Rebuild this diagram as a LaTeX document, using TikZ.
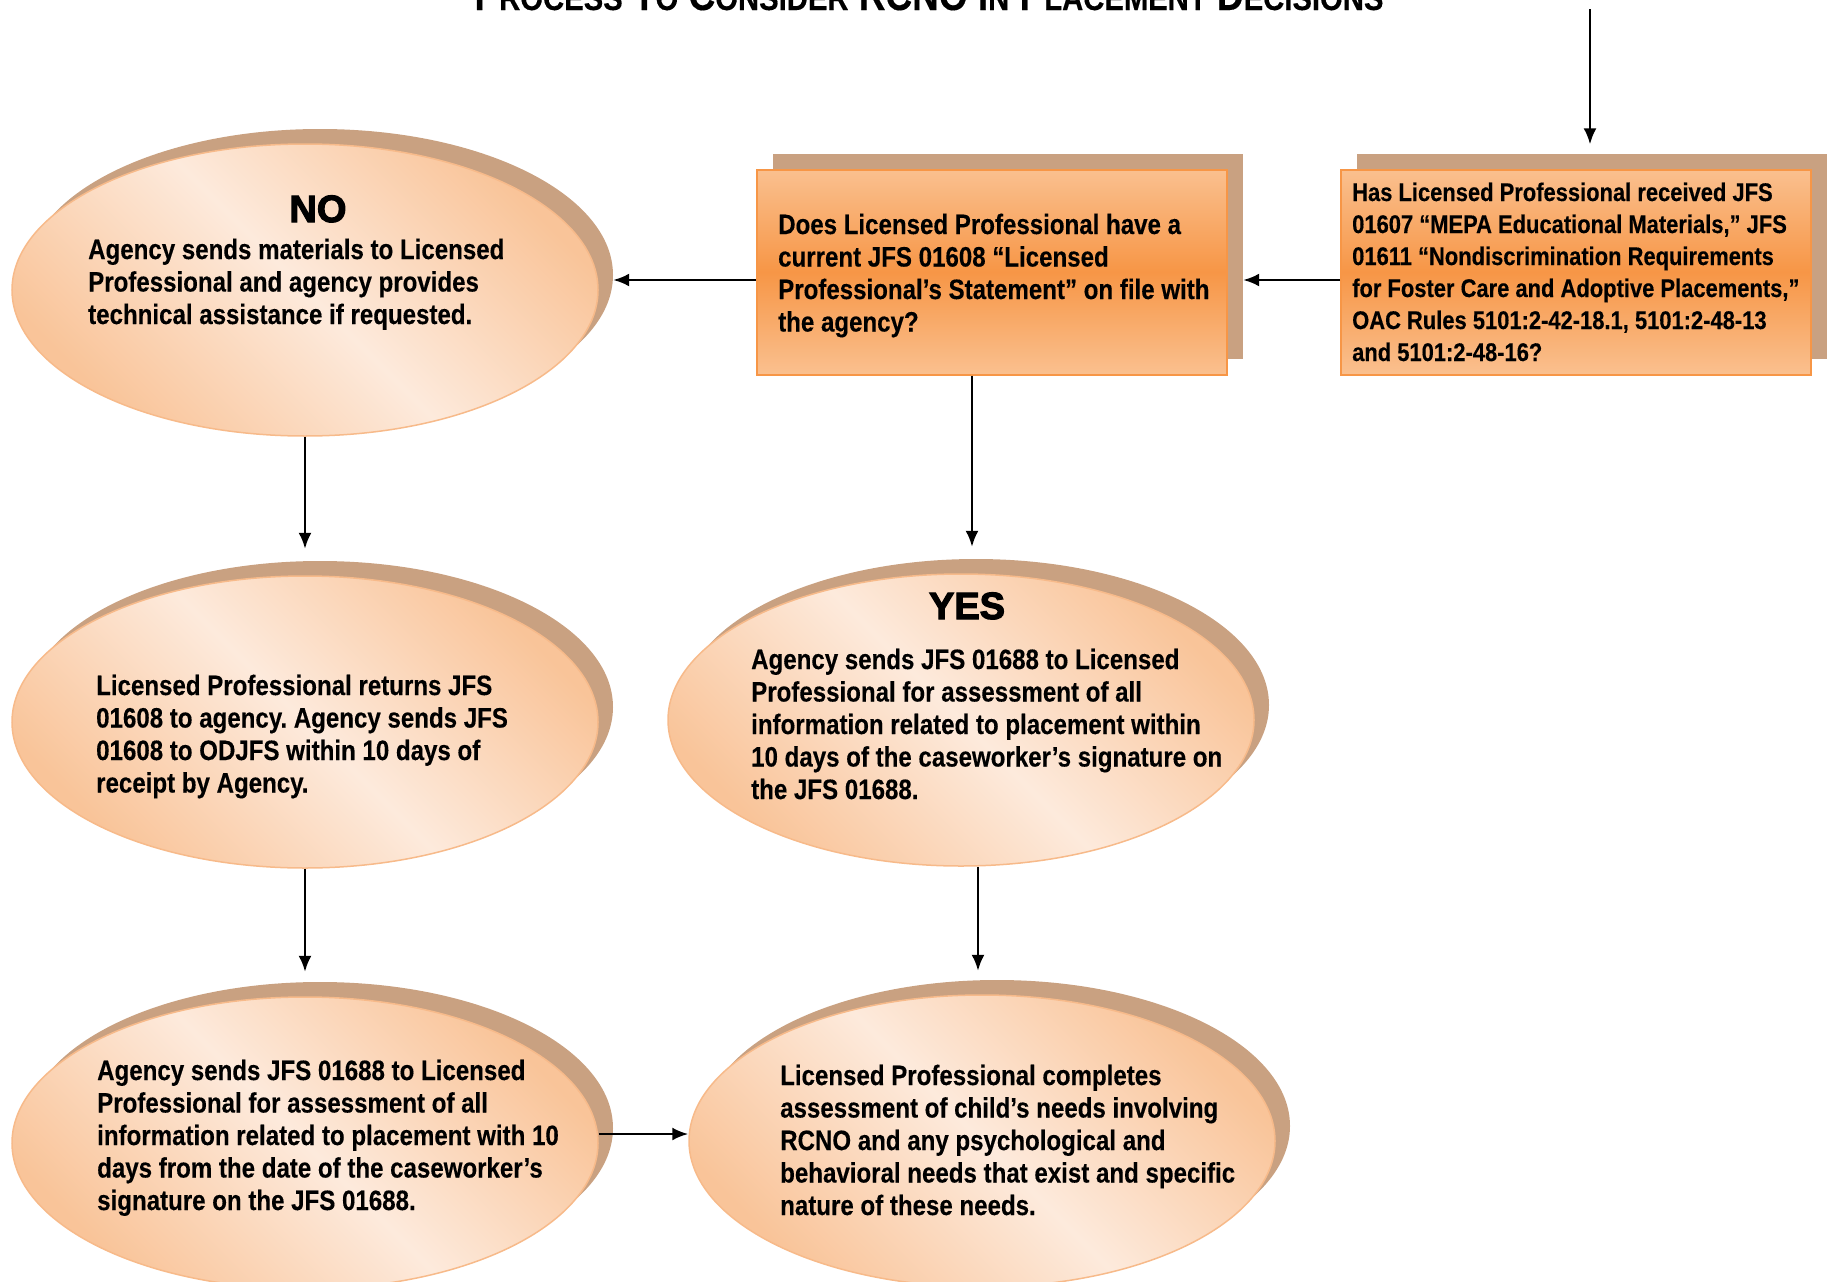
\documentclass[tikz,border=0pt]{standalone}
\usepackage{fontspec}
\usetikzlibrary{shapes.geometric,arrows.meta,calc}
\newfontfamily\nar[FakeStretch=0.86,FakeBold=0.3]{Liberation Sans Bold}
\newfontfamily\blk[FakeBold=3]{Liberation Sans Bold}
\definecolor{shad}{RGB}{201,161,129}
\definecolor{elld}{RGB}{249,196,153}
\definecolor{elll}{RGB}{253,234,220}
\definecolor{ellb}{RGB}{247,186,138}
\definecolor{boxo}{RGB}{247,150,70}
\definecolor{boxl}{RGB}{250,192,143}
\newcommand\lns[1]{\begin{tabular}[t]{@{}l@{}}#1\end{tabular}}
\newcommand\tsc[2]{{\fontsize{43pt}{43pt}\selectfont#1}{\fontsize{34pt}{34pt}\selectfont#2}}
\frenchspacing
\begin{document}
\begin{tikzpicture}[x=1pt,y=-1pt,
  ellsh/.style={ellipse, fill=shad, minimum width=586pt, minimum height=292pt, inner sep=0pt},
  ellf/.style={ellipse, draw=ellb, line width=1.5pt, minimum width=586pt, minimum height=292pt, inner sep=0pt,
     top color=elld, bottom color=elld, middle color=elll, shading angle=-45},
  boxsh/.style={rectangle, fill=shad, minimum width=470pt, minimum height=205pt, inner sep=0pt},
  boxf/.style={rectangle, draw=boxo, line width=2pt, minimum width=470pt, minimum height=205pt, inner sep=0pt,
     top color=boxl, bottom color=boxl, middle color=boxo},
  etext/.style={anchor=base west, inner sep=0pt, font=\nar\fontsize{28pt}{32.5pt}\selectfont},
  rtext/.style={anchor=base west, inner sep=0pt, font=\nar\fontsize{25.5pt}{32pt}\selectfont},
  head/.style={anchor=base, inner sep=0pt, font=\blk\fontsize{38pt}{38pt}\selectfont},
  arr/.style={draw=black, line width=2.4pt, -{Latex[length=16pt,width=13pt]}}]
\useasboundingbox (0,0) rectangle (1832,1282);

% title
\node[anchor=base, inner sep=0pt, font=\nar\fontsize{43pt}{43pt}\selectfont] (title) at (929,10)
  {\tsc{P}{ROCESS} \tsc{T}{O} \tsc{C}{ONSIDER} RCNO \tsc{I}{N} \tsc{P}{LACEMENT} \tsc{D}{ECISIONS}};

% shadows
\node[boxsh] (r2s) at (1592,256) {};
\node[boxsh] (r1s) at (1008,256) {};
\node[ellsh] (eNOs) at (320,275) {};
\node[ellsh] (e2s) at (320,707) {};
\node[ellsh] (e3s) at (320,1128) {};
\node[ellsh] (eYs) at (976,705) {};
\node[ellsh] (e4s) at (997,1126) {};

% fills
\node[boxf] (r2) at (1576,272) {};
\node[boxf] (r1) at (992,272) {};
\node[ellf] (eNO) at (305,290) {};
\node[ellf] (e2) at (305,722) {};
\node[ellf] (e3) at (305,1143) {};
\node[ellf] (eY) at (961,720) {};
\node[ellf] (e4) at (982,1141) {};

% texts
\node[rtext] (t2) at (1352,201) {\lns{Has Licensed Professional received JFS\\
01607 “MEPA Educational Materials,” JFS\\
01611 “Nondiscrimination Requirements\\
for Foster Care and Adoptive Placements,”\\
OAC Rules 5101:2-42-18.1, 5101:2-48-13\\
and 5101:2-48-16?}};
\node[etext] (t1) at (778,234) {\lns{Does Licensed Professional have a\\
current JFS 01608 “Licensed\\
Professional’s Statement” on file with\\
the agency?}};
\node[head] (hNO) at (318,222) {NO};
\node[etext] (tNO) at (88,259) {\lns{Agency sends materials to Licensed\\
Professional and agency provides\\
technical assistance if requested.}};
\node[etext] (te2) at (96,695) {\lns{Licensed Professional returns JFS\\
01608 to agency. Agency sends JFS\\
01608 to ODJFS within 10 days of\\
receipt by Agency.}};
\node[etext] (te3) at (97,1080) {\lns{Agency sends JFS 01688 to Licensed\\
Professional for assessment of all\\
information related to placement with 10\\
days from the date of the caseworker’s\\
signature on the JFS 01688.}};
\node[head] (hY) at (967,619) {YES};
\node[etext] (tY) at (751,669) {\lns{Agency sends JFS 01688 to Licensed\\
Professional for assessment of all\\
information related to placement within\\
10 days of the caseworker’s signature on\\
the JFS 01688.}};
\node[etext] (te4) at (780,1085) {\lns{Licensed Professional completes\\
assessment of child’s needs involving\\
RCNO and any psychological and\\
behavioral needs that exist and specific\\
nature of these needs.}};

% connectors
\coordinate (top) at (1590,9);
\draw[arr, shorten >=9pt] (top) -- (top |- r2s.north);
\draw[arr] ([yshift=-8pt]r2.west) -- ([yshift=-8pt]r2.west -| r1s.east);
\draw[arr] ([yshift=-8pt]r1.west) -- ([yshift=-8pt]r1.west -| eNOs.east);
\draw[arr, shorten >=12pt] (eNO.south) -- (eNO.south |- e2s.north);
\draw[arr, shorten >=10pt] (e2.south) -- (e2.south |- e3s.north);
\draw[arr] ([yshift=9pt]e3.east) -- ([yshift=9pt]e3.east -| e4.west);
\draw[arr, shorten >=12pt] ([xshift=-20pt]r1.south) -- ([xshift=-20pt]r1.south |- eYs.north);
\draw[arr, shorten >=9pt] ([xshift=17pt]eY.south) -- ([xshift=17pt]eY.south |- e4s.north);
\end{tikzpicture}
\end{document}
